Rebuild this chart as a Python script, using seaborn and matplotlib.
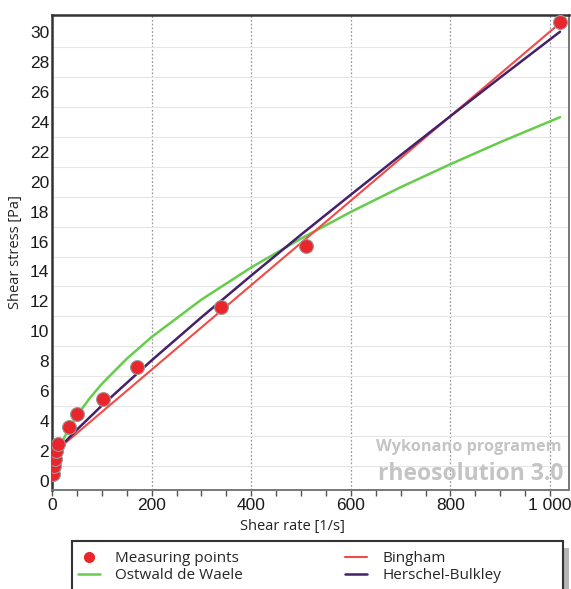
"""
Flow curve of a drilling fluid: measured shear stress vs. shear rate
with Bingham, Ostwald de Waele and Herschel-Bulkley model curves.
"""
import matplotlib
matplotlib.use("Agg")
import matplotlib.pyplot as plt
import matplotlib.ticker as mticker
from matplotlib.patches import Rectangle
import seaborn as sns
import pandas as pd

shear_rate_pts = [3, 5, 6, 8, 12, 34, 51, 102, 170, 340, 510, 1020]
shear_stress_pts = [0.45, 1.0, 1.5, 2.0, 2.5, 3.6, 4.5, 5.5, 7.6, 11.6, 15.7, 30.7]

# model curves at selected shear rates
bingham_rate = [4, 1020]
bingham_stress = [1.9, 30.6]

ostwald_rate = [1, 2, 5, 10, 20, 35, 50, 75, 100, 150, 200, 300, 400, 500, 600, 700, 800, 900, 1020]
ostwald_stress = [0.47, 0.70, 1.18, 1.75, 2.60, 3.57, 4.37, 5.50, 6.49, 8.17, 9.62, 12.12,
                  14.27, 16.20, 17.98, 19.63, 21.17, 22.64, 24.31]

hb_rate = [1, 5, 10, 20, 50, 100, 200, 300, 400, 500, 600, 700, 800, 900, 1020]
hb_stress = [1.65, 1.83, 2.02, 2.40, 3.43, 5.04, 8.06, 10.94, 13.73, 16.46, 19.13, 21.77,
             24.38, 26.96, 30.02]

x_ticks = [0, 200, 400, 600, 800, 1000]
x_tick_labels = ["0", "200", "400", "600", "800", "1 000"]
y_ticks = list(range(0, 31, 2))

W, H = 571, 589

sns.set_theme(style="white")
plt.rcParams["font.family"] = ["Liberation Sans", "DejaVu Sans"]

fig = plt.figure(figsize=(W / 100, H / 100), dpi=100)
ax = fig.add_axes([52 / W, 1 - 490 / H, 517 / W, 475.5 / H])

df_b = pd.DataFrame({"rate": bingham_rate, "stress": bingham_stress})
df_o = pd.DataFrame({"rate": ostwald_rate, "stress": ostwald_stress})
df_h = pd.DataFrame({"rate": hb_rate, "stress": hb_stress})
df_p = pd.DataFrame({"rate": shear_rate_pts, "stress": shear_stress_pts})

sns.lineplot(data=df_o, x="rate", y="stress", color="#66cc4c", linewidth=1.8, ax=ax, zorder=3)
sns.lineplot(data=df_b, x="rate", y="stress", color="#f24a46", linewidth=1.5, ax=ax, zorder=4)
sns.lineplot(data=df_h, x="rate", y="stress", color="#45206b", linewidth=1.8, ax=ax, zorder=5)
sns.scatterplot(data=df_p, x="rate", y="stress", color="#e8262b", s=100, edgecolor="#9a9a9a",
                linewidth=0.8, ax=ax, zorder=6)

ax.set_xlim(0, 1038)
ax.set_ylim(-0.6, 31.17)
ax.set_xticks(x_ticks)
ax.set_xticklabels(x_tick_labels)
ax.xaxis.set_minor_locator(mticker.MultipleLocator(50))
ax.set_yticks(y_ticks)
ax.tick_params(axis="x", which="both", bottom=True, length=4, width=1, color="#555555",
               labelsize=12.5, pad=2)
ax.tick_params(axis="y", left=False, length=0, labelsize=12.5, pad=2)
for lab in ax.get_xticklabels() + ax.get_yticklabels():
    lab.set_color("#1a1a1a")

# grid: dotted verticals at major x ticks, faint horizontals at odd stresses
for xv in x_ticks[1:]:
    ax.axvline(xv, color="#9a9a9a", linestyle=(0, (1.5, 1.5)), linewidth=0.9, zorder=1)
for yv in range(1, 31, 2):
    ax.axhline(yv, color="#e6e6e6", linewidth=0.8, zorder=1)

for side in ["top", "left"]:
    ax.spines[side].set_color("#333333")
    ax.spines[side].set_linewidth(1.8)
for side in ["right", "bottom"]:
    ax.spines[side].set_color("#777777")
    ax.spines[side].set_linewidth(1.4)

ax.set_xlabel("Shear rate [1/s]", fontsize=10.5, family=["Open Sans", "DejaVu Sans"],
              color="#222222")
ax.set_ylabel("Shear stress [Pa]", fontsize=10.5, family=["Open Sans", "DejaVu Sans"],
              color="#222222")
ax.xaxis.set_label_coords((292 - 52) / 517, -(519 - 490) / 475.5)
ax.yaxis.set_label_coords(-(52 - 23) / 517, 0.5)

# watermark
ax.text(0.985, 0.082, "Wykonano programem", transform=ax.transAxes, ha="right", va="baseline",
        fontsize=11.7, fontweight="bold", color="#c4c4c4", family=["Open Sans", "DejaVu Sans"])
ax.text(0.99, 0.02, "rheosolution 3.0", transform=ax.transAxes, ha="right", va="baseline",
        fontsize=16.5, fontweight="bold", color="#c4c4c4", family=["Open Sans", "DejaVu Sans"])

# legend below the plot; frame drawn separately so it runs off the bottom edge
handles = [
    plt.Line2D([], [], marker="o", linestyle="", color="#e8262b", markersize=7),
    plt.Line2D([], [], color="#66cc4c", linewidth=1.8),
    plt.Line2D([], [], color="#f24a46", linewidth=1.5),
    plt.Line2D([], [], color="#45206b", linewidth=1.8),
]
labels = ["Measuring points", "Ostwald de Waele", "Bingham", "Herschel-Bulkley"]
leg = fig.legend(handles, labels, ncol=2, loc="upper left",
                 bbox_to_anchor=(78 / W, 1 - 551 / H), frameon=False,
                 prop={"family": "Open Sans", "size": 11},
                 handlelength=1.45, handletextpad=1.0, columnspacing=6.65,
                 labelspacing=0.15, borderpad=0, borderaxespad=0)

fig.add_artist(Rectangle((564 / W, 0), 5 / W, 1 - 548 / H, transform=fig.transFigure,
                         facecolor="#b5b5b5", edgecolor="none", zorder=1))
fig.add_artist(Rectangle((72 / W, -10 / H), 491 / W, 1 - 541 / H + 10 / H,
                         transform=fig.transFigure, facecolor="white",
                         edgecolor="#333333", linewidth=1.5, zorder=2))
leg.set_zorder(3)

fig.savefig("out.png", dpi=100)
